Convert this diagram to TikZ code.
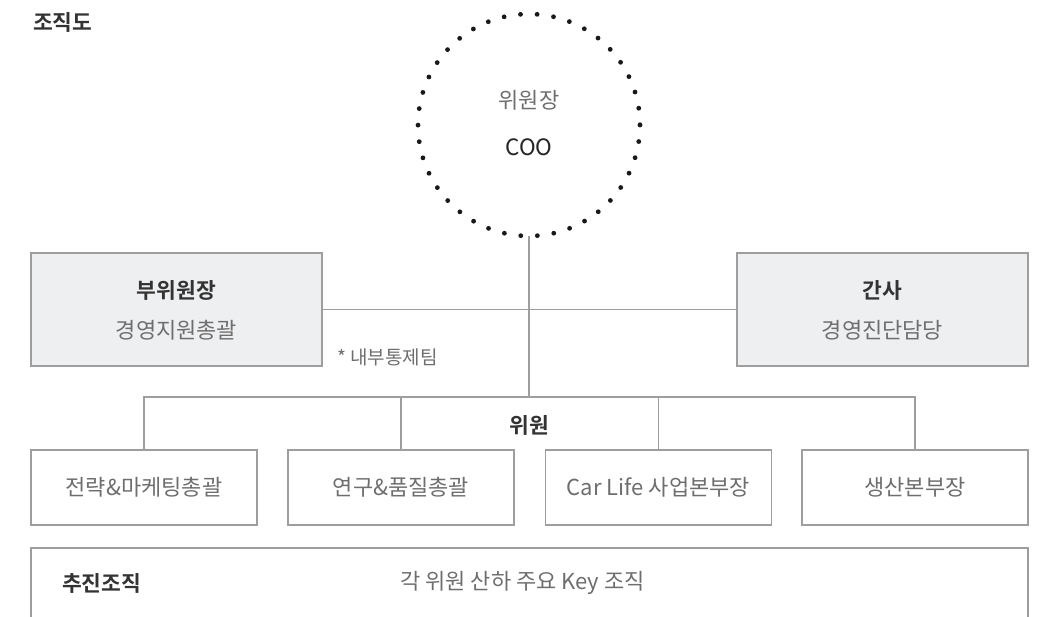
\documentclass[tikz,border=0pt]{standalone}
\usepackage{fontspec}
\setmainfont{Noto Sans CJK KR}[BoldFont={Noto Sans CJK KR Bold}]
\definecolor{linegray}{HTML}{9E9E9E}
\definecolor{boxfill}{HTML}{EEEFF1}
\definecolor{txtgray}{HTML}{6E6E6E}
\definecolor{txtdark}{HTML}{333333}
\begin{document}
\begin{tikzpicture}[x=1pt,y=-1pt,
  conn/.style={draw=linegray,line width=1.2pt},
  graybox/.style={draw=linegray,fill=boxfill,line width=1.2pt,minimum width=291pt,minimum height=113pt,inner sep=0pt},
  membox/.style={draw=linegray,fill=white,line width=1.2pt,minimum width=226pt,minimum height=75pt,inner sep=0pt,font=\fontsize{22}{24}\selectfont,text=txtgray},
  lbl/.style={inner sep=0pt,anchor=center},
  reg/.style={font=\fontsize{22}{24}\selectfont,text=txtgray},
  bld/.style={font=\bfseries\fontsize{21.5}{24}\selectfont,text=txtdark}]
\useasboundingbox (0,0) rectangle (1043,616);
% title
\node[lbl,anchor=west,bld] (title) at (33,22) {조직도};
% chair circle
\coordinate (cc) at (529,125);
\draw[black!90,line width=4.8pt,line cap=round,dash pattern=on 0pt off 16.6pt] (cc) circle[radius=111];
\node[lbl,reg] (chairk) at (529,100) {위원장};
\node[lbl,font=\fontsize{22.5}{24}\selectfont,text=black!85] (coo) at (529,147) {COO};
\coordinate (cbot) at (529,236);
% side boxes
\node[graybox] (vice) at (176.5,309.5) {};
\node[lbl,bld] (vicet) at (176.5,290) {부위원장};
\node[lbl,reg] (vices) at (176.5,330) {경영지원총괄};
\node[graybox] (sec) at (882.5,309.5) {};
\node[lbl,bld] (sect) at (882.5,290) {간사};
\node[lbl,reg] (secs) at (882.5,330) {경영진단담당};
\node[lbl,anchor=west,font=\fontsize{19}{22}\selectfont,text=txtgray] (audit) at (337,357) {* 내부통제팀};
% connectors top
\coordinate (bus) at (529,397);
\draw[conn] (cbot) -- (bus);
\draw[conn] (vice.east) -- (sec.west);
% members
\node[membox] (m1) at (144,487.5) {전략\&마케팅총괄};
\node[membox] (m2) at (401,487.5) {연구\&품질총괄};
\node[membox] (m3) at (658.5,487.5) {Car Life 사업본부장};
\node[membox] (m4) at (915,487.5) {생산본부장};
\node[lbl,bld] (memt) at (529,425) {위원};
\draw[conn] (m1.north) -- (m1.north |- bus) -- (m4.north |- bus) -- (m4.north);
\draw[conn] (m2.north) -- (m2.north |- bus);
\draw[conn] (m3.north) -- (m3.north |- bus);
% bottom box
\draw[conn] (31,630) -- (31,548) -- (1028,548) -- (1028,630);
\node[lbl,anchor=west,bld] (push) at (62,583) {추진조직};
\node[lbl,anchor=west,reg] (pushd) at (400,583) {각 위원 산하 주요 Key 조직};
\end{tikzpicture}
\end{document}
